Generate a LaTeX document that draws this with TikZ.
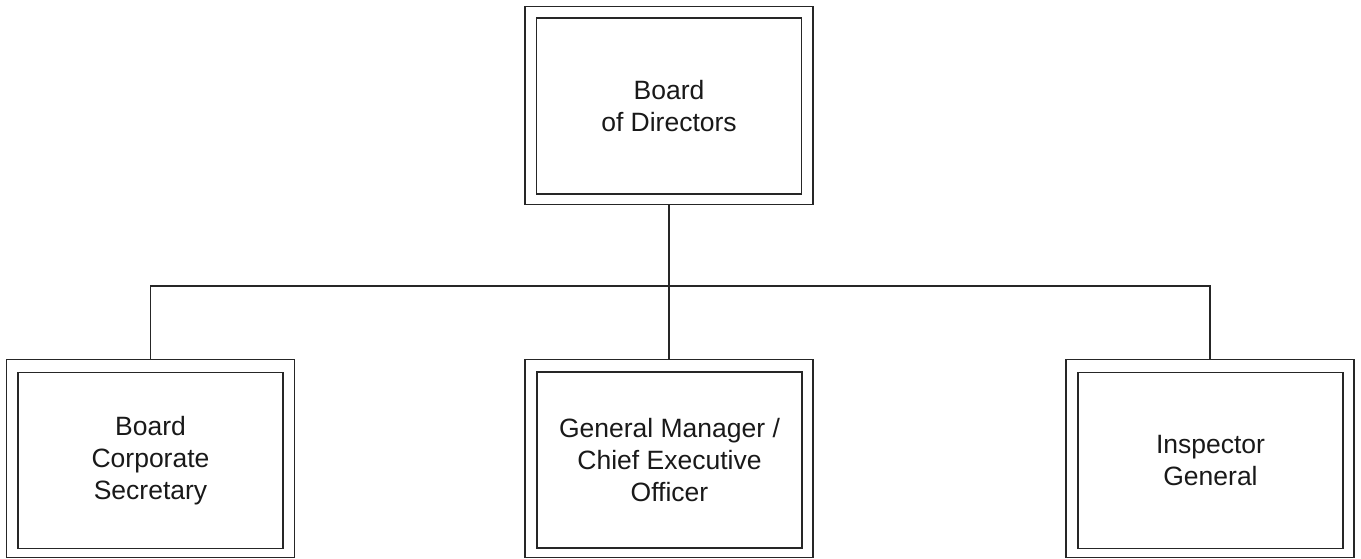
\documentclass[tikz,border=0pt]{standalone}
\usepackage{fontspec}
\setmainfont{Liberation Sans}
\begin{document}
\begin{tikzpicture}[x=1pt,y=-1pt,
  outerbox/.style={draw=black!85,line width=1.8pt,minimum width=288pt,minimum height=198pt,inner sep=0pt},
  innerbox/.style={draw=black!85,line width=1.8pt,minimum width=265pt,minimum height=176pt,inner sep=0pt,align=center,font=\fontsize{26.5}{32}\selectfont,text=black!90},
  link/.style={draw=black!85,line width=1.8pt}]
\useasboundingbox (0,0) rectangle (1361,558);
\node[outerbox] (bodo) at (669,105.5) {};
\node[innerbox] (bod) at (669,106) {Board\\of Directors};
\node[outerbox] (bcso) at (150.5,458.5) {};
\node[innerbox] (bcs) at (150.5,460.5) {Board\\Corporate\\Secretary};
\node[outerbox] (gmo) at (669,458.5) {};
\node[innerbox] (gm) at (669.5,460) {General Manager /\\Chief Executive\\Officer};
\node[outerbox] (igo) at (1210,458.5) {};
\node[innerbox] (ig) at (1210.5,460.5) {Inspector\\General};
\coordinate (bus) at (669,286);
\draw[link] (bodo.south) -- (gmo.north);
\draw[link] (bcso.north) |- (bus) -| (igo.north);
\end{tikzpicture}
\end{document}
